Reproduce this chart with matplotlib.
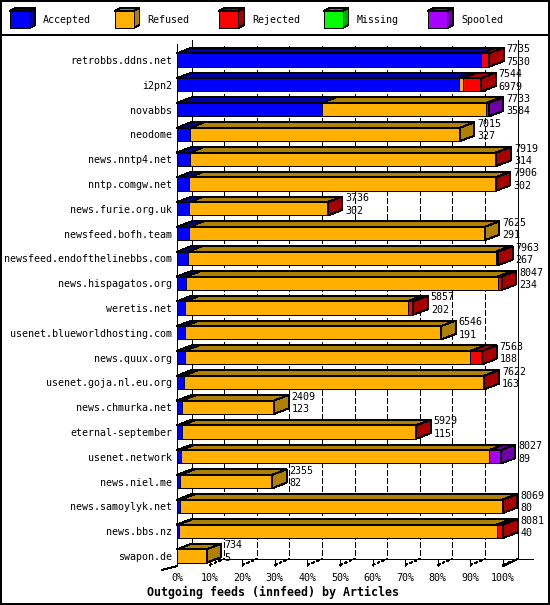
"""Outgoing feeds (innfeed) by articles, pseudo-3D stacked bars."""

import matplotlib
matplotlib.use("Agg")
import matplotlib.pyplot as plt
from matplotlib.patches import Polygon, Rectangle
import numpy as np

# Data
hosts = ["retrobbs.ddns.net", "i2pn2", "novabbs", "neodome", "news.nntp4.net",
         "nntp.comgw.net", "news.furie.org.uk", "newsfeed.bofh.team",
         "newsfeed.endofthelinebbs.com", "news.hispagatos.org", "weretis.net",
         "usenet.blueworldhosting.com", "news.quux.org", "usenet.goja.nl.eu.org",
         "news.chmurka.net", "eternal-september", "usenet.network",
         "news.niel.me", "news.samoylyk.net", "news.bbs.nz", "swapon.de"]
offered = [7735, 7544, 7733, 7015, 7919, 7906, 3736, 7625, 7963, 8047, 5857,
           6546, 7563, 7622, 2409, 5929, 8027, 2355, 8069, 8081, 734]
accepted = [7530, 6979, 3584, 327, 314, 302, 302, 291, 267, 234, 202,
            191, 188, 163, 123, 115, 89, 82, 80, 40, 5]
refused = [0, 100, 4085, 6688, 7595, 7594, 3424, 7334, 7631, 7713, 5515,
           6355, 7085, 7449, 2286, 5804, 7648, 2273, 7979, 7891, 729]
rejected = [205, 465, 58, 0, 10, 10, 10, 0, 65, 100, 140,
            0, 290, 10, 0, 10, 0, 0, 10, 150, 0]
missing = [0] * 21
spooled = [0, 0, 6, 0, 0, 0, 0, 0, 0, 0, 0,
           0, 0, 0, 0, 0, 290, 0, 0, 0, 0]

categories = ["Accepted", "Refused", "Rejected", "Missing", "Spooled"]
face = ["#0000ff", "#ffb000", "#ff0000", "#00ff00", "#a800ff"]
shade = ["#0000a8", "#b08000", "#a80000", "#00a800", "#7000a8"]

MONO = "DejaVu Sans Mono"
FS = 7.2
LW = 0.72

# pixel look: no smoothing on lines and shapes
plt.rcParams["lines.antialiased"] = False
plt.rcParams["patch.antialiased"] = False

# pixel geometry of the plot box
PX_PER_PCT = 3.26
PX_PER_ROW = 24.8
DX = 14.5 / PX_PER_PCT      # depth, in percent
DY = 5.5 / PX_PER_ROW       # depth, in rows
H = 0.27                    # half height of a front face

fig = plt.figure(figsize=(5.5, 6.05), dpi=100)

# background layer in pixel coordinates: frame, legend, title
bg = fig.add_axes([0, 0, 1, 1])
bg.set_xlim(0, 550)
bg.set_ylim(605, 0)
bg.axis("off")
bg.add_patch(Rectangle((0.5, 0.5), 548, 603, fill=False, lw=1.4, ec="black"))
bg.plot([0, 550], [35, 35], color="black", lw=1.4)

for k, (name, fc, sc) in enumerate(zip(categories, face, shade)):
    x = 10 + k * 104.5
    bg.add_patch(Polygon([(x, 11), (x + 6, 8), (x + 25, 8), (x + 19, 11)],
                         fc=sc, ec="black", lw=LW))
    bg.add_patch(Polygon([(x + 19, 11), (x + 25, 8), (x + 25, 25), (x + 19, 28)],
                         fc=sc, ec="black", lw=LW))
    bg.add_patch(Rectangle((x, 11), 19, 17, fc=fc, ec="black", lw=LW))
    bg.text(x + 33, 20, name, family=MONO, size=FS, va="center")

bg.text(273, 592, "Outgoing feeds (innfeed) by Articles", family=MONO,
        weight="bold", size=8.4, ha="center", va="center")

# main axes: x in percent of the largest feed, y in rows
n = len(hosts)
top_px = 60 - 0.5 * PX_PER_ROW
bot_px = 60 + (n - 0.5) * PX_PER_ROW
ax = fig.add_axes([177 / 550, 1 - bot_px / 605, 326 / 550, (bot_px - top_px) / 605])
ax.set_xlim(0, 100)
ax.set_ylim(n - 0.5, -0.5)
ax.patch.set_alpha(0)
for s in ax.spines.values():
    s.set_visible(False)

ax.set_yticks(range(n))
ax.set_yticklabels(hosts, family=MONO, size=FS)
ax.set_xticks(np.arange(0, 101, 10))
ax.set_xticklabels(["{}%".format(p) for p in range(0, 101, 10)], family=MONO, size=FS)
ax.tick_params(length=0)
ax.tick_params(axis="y", pad=3.6)
ax.tick_params(axis="x", pad=3.0)

# walls and floor
y_top = (40 - 60) / PX_PER_ROW
y_front = (566 - 60) / PX_PER_ROW
y_back = (559 - 60) / PX_PER_ROW
line = dict(color="black", lw=LW, clip_on=False, zorder=1)
ax.plot([0, 0], [(44 - 60) / PX_PER_ROW, y_front], **line)
ax.plot([0, -15 / PX_PER_PCT], [y_front, (570 - 60) / PX_PER_ROW], **line)
ax.plot([DX, DX], [y_top, y_back], **line)
ax.plot([100 + DX, 100 + DX], [y_top, y_back], **line)
ax.plot([DX, 100 + DX + 15 / PX_PER_PCT], [y_back, y_back], **line)
ax.plot([100, 100 + DX], [y_front, y_back], **line)
for p in range(10, 100, 10):
    ax.plot([p + DX, p + DX], [y_top + 0.25, y_back], color="black", lw=1.0,
            dashes=(4, 2), clip_on=False, zorder=1.5)
for p in range(10, 101, 10):
    ax.plot([p, p], [y_front - 0.25, y_front], **line)
    ax.plot([p, p + DX], [y_front - 0.04, y_back], color="black", lw=1.0,
            dashes=(2, 2), clip_on=False, zorder=1.5)

# bars
scale = 100.0 / max(offered)
series = [accepted, refused, rejected, missing, spooled]
for i in range(n):
    vals = [s[i] * scale for s in series]
    x0 = 0.0
    last = None
    yt, yb = i - H, i + H
    for k, v in enumerate(vals):
        if v <= 0:
            continue
        x1 = x0 + v
        ax.add_patch(Polygon([(x0, yt), (x1, yt), (x1 + DX, yt - DY), (x0 + DX, yt - DY)],
                             fc=shade[k], ec="black", lw=LW, clip_on=False, zorder=3))
        ax.add_patch(Rectangle((x0, yt), v, 2 * H, fc=face[k], ec="black",
                               lw=LW, clip_on=False, zorder=3))
        x0 = x1
        last = k
    ax.add_patch(Polygon([(x0, yt), (x0 + DX, yt - DY), (x0 + DX, yb - DY), (x0, yb)],
                         fc=shade[last], ec="black", lw=LW, clip_on=False, zorder=3))
    xt = x0 + DX + 3 / PX_PER_PCT
    ax.text(xt, i - 0.43, str(offered[i]), family=MONO, size=FS, va="center", zorder=4)
    ax.text(xt, i + 0.07, str(accepted[i]), family=MONO, size=FS, va="center", zorder=4)

fig.savefig("out.png", dpi=100)
